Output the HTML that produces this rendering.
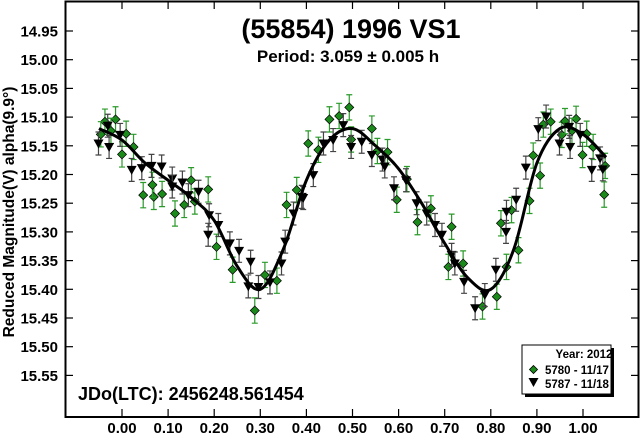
<!DOCTYPE html>
<html><head><meta charset="utf-8"><style>
body{margin:0;background:#fff}
svg{display:block;font-family:"Liberation Sans",Arial,sans-serif;font-weight:bold}
</style></head><body>
<svg id="chart" width="640" height="435" viewBox="0 0 640 435">
<rect x="0" y="0" width="640" height="435" fill="#fff"/>
<g id="plot"></g>
<rect x="65.5" y="1.5" width="573" height="415.5" fill="none" stroke="#000" stroke-width="2"/>
<text x="351" y="38" text-anchor="middle" font-size="27">(55854) 1996 VS1</text>
<text x="348" y="62" text-anchor="middle" font-size="17">Period: 3.059 ± 0.005 h</text>
<text x="78" y="400" font-size="18">JDo(LTC): 2456248.561454</text>
<text transform="translate(14,212) rotate(-90)" text-anchor="middle" font-size="15.5">Reduced Magnitude(V) alpha(9.9°)</text>
<g>
<rect x="525" y="348" width="89" height="49" fill="#000"/>
<rect x="522" y="345" width="89" height="49" fill="#fff" stroke="#000" stroke-width="1"/>
<text x="584" y="358" text-anchor="middle" font-size="11.5">Year: 2012</text>
<path d="M533.5,365.5 l4,4 l-4,4 l-4,-4z" fill="#1a8a1a" stroke="#000" stroke-width="0.8"/>
<text x="545" y="374" font-size="11.5">5780 - 11/17</text>
<path d="M528.5,378 h10 l-5,9z" fill="#000"/>
<text x="545" y="388" font-size="11.5">5787 - 11/18</text>
</g>
</svg>
<script>
const yTicks=[14.95,15.00,15.05,15.10,15.15,15.20,15.25,15.30,15.35,15.40,15.45,15.50,15.55];
const xTicks=[0,0.1,0.2,0.3,0.4,0.5,0.6,0.7,0.8,0.9,1.0];
const curvePhase=[-0.05,0,0.05,0.1,0.15,0.2,0.25,0.3,0.35,0.4,0.45,0.5,0.55,0.6,0.65,0.7,0.75,0.8,0.85,0.9,0.95,1.0,1.05];
const curveMag=[15.12,15.14,15.18,15.21,15.24,15.28,15.36,15.40,15.33,15.21,15.14,15.12,15.15,15.19,15.25,15.32,15.38,15.40,15.33,15.18,15.12,15.13,15.17];
const greenPhase=[-0.037,-0.014,-0.046,-0.024,0.009,0.0,0.025,0.046,0.069,0.066,0.087,0.115,0.135,0.150,0.158,0.187,0.205,0.240,0.288,0.310,0.336,0.357,0.379,0.404,0.426,0.450,0.471,0.493,0.497,0.542,0.554,0.576,0.596,0.618,0.641,0.670,0.715,0.708,0.740,0.782,0.813,0.834,0.822,0.845,0.860,0.884,0.907,0.892,0.914,0.930,0.954,0.961,0.985,0.976,1.008,0.999,1.022,1.048,1.046];
const greenMag=[15.108,15.104,15.130,15.124,15.129,15.165,15.152,15.236,15.239,15.218,15.234,15.268,15.253,15.210,15.247,15.226,15.326,15.366,15.437,15.375,15.385,15.253,15.227,15.146,15.157,15.104,15.098,15.083,15.139,15.120,15.159,15.161,15.244,15.208,15.283,15.259,15.291,15.361,15.355,15.430,15.413,15.361,15.285,15.262,15.332,15.246,15.202,15.167,15.113,15.108,15.131,15.107,15.103,15.124,15.129,15.166,15.152,15.185,15.235];
const blackPhase=[-0.051,-0.028,-0.031,-0.004,0.021,0.043,0.064,0.086,0.109,0.131,0.109,0.144,0.166,0.189,0.209,0.187,0.234,0.254,0.279,0.274,0.296,0.321,0.346,0.354,0.372,0.390,0.393,0.415,0.437,0.458,0.480,0.497,0.520,0.542,0.565,0.570,0.590,0.616,0.639,0.661,0.679,0.694,0.715,0.722,0.742,0.766,0.787,0.811,0.834,0.833,0.855,0.876,0.903,0.920,0.949,0.970,0.972,0.994,1.019,1.037,1.043];
const blackMag=[15.146,15.152,15.115,15.131,15.192,15.189,15.185,15.186,15.207,15.214,15.221,15.236,15.230,15.271,15.288,15.305,15.320,15.333,15.352,15.395,15.396,15.388,15.355,15.317,15.268,15.239,15.241,15.201,15.146,15.140,15.114,15.152,15.143,15.166,15.174,15.186,15.224,15.210,15.250,15.268,15.288,15.305,15.340,15.355,15.387,15.433,15.410,15.366,15.265,15.300,15.244,15.188,15.121,15.099,15.146,15.117,15.152,15.131,15.192,15.172,15.191];
const greenErr=0.022, blackErr=0.02;

const NS="http://www.w3.org/2000/svg";
const X=p=>122+p*461;
const Y=m=>31+(m-14.95)/0.05*28.7;
const svg=document.getElementById('chart');
const plot=document.getElementById('plot');
function mk(tag,attrs,parent){const e=document.createElementNS(NS,tag);for(const k in attrs)e.setAttribute(k,attrs[k]);(parent||svg).appendChild(e);return e;}

yTicks.forEach(v=>{
  const y=Y(v);
  const l=mk('line',{x1:65.5,x2:73,y1:y,y2:y,stroke:'#000','stroke-width':1.2});
  
  
  const r=mk('line',{x1:631,x2:638.5,y1:y,y2:y,stroke:'#000','stroke-width':1.2});
  
  
  const t=mk('text',{x:58,y:y+5.5,'text-anchor':'end','font-size':15});
  t.textContent=v.toFixed(2);
  
  
});
xTicks.forEach(v=>{
  const x=X(v);
  const b=mk('line',{x1:x,x2:x,y1:409,y2:417,stroke:'#000','stroke-width':1.2});
  
  
  const tp=mk('line',{x1:x,x2:x,y1:1.5,y2:9,stroke:'#000','stroke-width':1.2});
  
  
  const t=mk('text',{x:x,y:433,'text-anchor':'middle','font-size':15});
  t.textContent=v.toFixed(2);
  
  
});

function drawSeries(ph,mg,err,col,shape,name){
  ph.forEach((p,i)=>{
    const x=X(p),y=Y(mg[i]),e=err/0.05*28.7;
    const g=mk('g',{},plot);
    
    
    mk('path',{d:`M${x},${y-e}V${y+e}M${x-3},${y-e}h6M${x-3},${y+e}h6`,stroke:col,'stroke-width':1.2,fill:'none'},g);
    if(shape==='d') mk('path',{d:`M${x},${y-4.5}l4.5,4.5l-4.5,4.5l-4.5,-4.5z`,fill:'#1a8a1a',stroke:'#000','stroke-width':0.7},g);
    else mk('path',{d:`M${x-5},${y-4}h10l-5,9z`,fill:'#000'},g);
  });
}
drawSeries(greenPhase,greenMag,greenErr,'#2a9a2a','d','point-5780');
drawSeries(blackPhase,blackMag,blackErr,'#444','t','point-5787');

const pts=curvePhase.map((p,i)=>[X(p),Y(curveMag[i])]);
let d=`M${pts[0][0]},${pts[0][1]}`;
for(let i=0;i<pts.length-1;i++){
  const p0=pts[Math.max(i-1,0)],p1=pts[i],p2=pts[i+1],p3=pts[Math.min(i+2,pts.length-1)];
  d+=`C${p1[0]+(p2[0]-p0[0])/6},${p1[1]+(p2[1]-p0[1])/6} ${p2[0]-(p3[0]-p1[0])/6},${p2[1]-(p3[1]-p1[1])/6} ${p2[0]},${p2[1]}`;
}
const c=mk('path',{d:d,fill:'none',stroke:'#000','stroke-width':3},plot);


</script>
</body></html>
